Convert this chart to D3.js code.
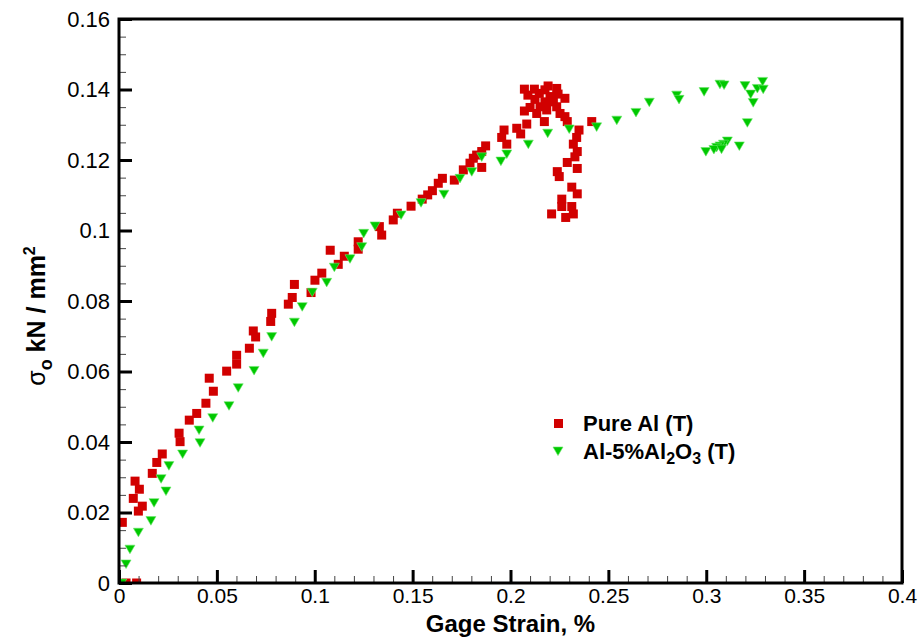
<!DOCTYPE html>
<html><head><meta charset="utf-8">
<script src="https://cdn.jsdelivr.net/npm/d3@7"></script>
<style>
body{margin:0;background:#fff;}
text{font-family:"Liberation Sans",Arial,Helvetica,sans-serif;}
</style></head>
<body><svg id="c" width="919" height="637"></svg>
<script>
const pureStrain=[0.0017,0.0036,0.0090,0.0073,0.0082,0.0104,0.0099,0.0119,0.0170,0.0193,0.0221,0.0307,0.0312,0.0359,0.0397,0.0444,0.0482,0.0461,0.0550,0.0601,0.0601,0.0666,0.0698,0.0686,0.0775,0.0780,0.0865,0.0885,0.0896,0.0981,0.1001,0.1036,0.1079,0.1120,0.1151,0.1222,0.1222,0.1330,0.1342,0.1401,0.1422,0.1492,0.1549,0.1577,0.1601,0.1631,0.1652,0.1713,0.1759,0.1793,0.1810,0.1827,0.1853,0.1853,0.1873,0.1967,0.1955,0.1981,0.2032,0.2052,0.2083,0.2071,0.2071,0.2122,0.2147,0.2176,0.2236,0.2278,0.2125,0.2176,0.2219,0.2100,0.2134,0.2185,0.2236,0.2278,0.2173,0.2290,0.2202,0.2151,0.2253,0.2089,0.2192,0.2243,0.2415,0.2350,0.2338,0.2321,0.2341,0.2329,0.2290,0.2341,0.2239,0.2249,0.2313,0.2341,0.2262,0.2262,0.2313,0.2210,0.2321,0.2282];
const pureStress=[0.0172,0,0,0.0240,0.0289,0.0266,0.0204,0.0218,0.0311,0.0342,0.0366,0.0425,0.0401,0.0462,0.0481,0.0510,0.0544,0.0581,0.0601,0.0621,0.0646,0.0666,0.0698,0.0715,0.0742,0.0765,0.0791,0.0810,0.0847,0.0824,0.0859,0.0879,0.0944,0.0904,0.0927,0.0947,0.0968,0.1011,0.0987,0.1030,0.1049,0.1069,0.1089,0.1101,0.1113,0.1134,0.1148,0.1143,0.1172,0.1191,0.1205,0.1214,0.1224,0.1179,0.1240,0.1285,0.1264,0.1245,0.1290,0.1274,0.1302,0.1401,0.1339,0.1401,0.1389,0.1399,0.1403,0.1375,0.1372,0.1365,0.1365,0.1349,0.1332,0.1342,0.1351,0.1323,0.1309,0.1309,0.1380,0.1351,0.1332,0.1384,0.1410,0.1387,0.1309,0.1285,0.1264,0.1245,0.1224,0.1209,0.1193,0.1176,0.1167,0.1153,0.1123,0.1104,0.1089,0.1068,0.1068,0.1047,0.1047,0.1037];
const compStrain=[0.0014,0.0036,0.0056,0.0099,0.0163,0.0179,0.0240,0.0215,0.0255,0.0325,0.0414,0.0409,0.0479,0.0562,0.0609,0.0690,0.0737,0.0780,0.0896,0.0936,0.0987,0.1061,0.1100,0.1180,0.1240,0.1250,0.1308,0.1441,0.1543,0.1660,0.1742,0.1802,0.1853,0.1951,0.1981,0.2091,0.2190,0.2300,0.2440,0.2543,0.2641,0.2709,0.2849,0.2861,0.2989,0.3070,0.3091,0.3198,0.3227,0.3240,0.3261,0.3288,0.3291,0.3210,0.3169,0.3108,0.3088,0.3070,0.3053,0.3039,0.2998,0.3078];
const compStress=[0,0.0054,0.0096,0.0144,0.0177,0.0228,0.0261,0.0296,0.0333,0.0366,0.0398,0.0434,0.0469,0.0503,0.0554,0.0603,0.0652,0.0699,0.0740,0.0784,0.0825,0.0853,0.0896,0.0920,0.0954,0.0992,0.1013,0.1044,0.1079,0.1103,0.1148,0.1167,0.1209,0.1197,0.1217,0.1245,0.1276,0.1288,0.1294,0.1313,0.1335,0.1364,0.1384,0.1372,0.1394,0.1415,0.1413,0.1411,0.1387,0.1363,0.1403,0.1423,0.1401,0.1306,0.1240,0.1254,0.1245,0.1240,0.1236,0.1230,0.1224,0.1231];
const xMajorTicks=[0,0.05,0.1,0.15,0.2,0.25,0.3,0.35,0.4];
const xTickLabels=["0","0.05","0.1","0.15","0.2","0.25","0.3","0.35","0.4"];
const yMajorTicks=[0,0.02,0.04,0.06,0.08,0.1,0.12,0.14,0.16];
const yTickLabels=["0","0.02","0.04","0.06","0.08","0.1","0.12","0.14","0.16"];
const seriesNames=["Pure Al (T)","Al-5%Al2O3 (T)"];

const L=119,R=902,T=19,B=583;
const svg=d3.select("#c");
const x=d3.scaleLinear().domain([0,0.4]).range([L,R]);
const y=d3.scaleLinear().domain([0,0.16]).range([B,T]);

svg.append("clipPath").attr("id","clip").append("rect").attr("x",L).attr("y",T).attr("width",R-L).attr("height",B-T);
const g=svg.append("g").attr("clip-path","url(#clip)");

const pure=pureStrain.map((s,i)=>({s,v:pureStress[i]}));
const comp=compStrain.map((s,i)=>({s,v:compStress[i]}));

g.selectAll(".p").data(pure).enter().append("rect")
 .attr("x",d=>x(d.s)-4.5).attr("y",d=>y(d.v)-4.5).attr("width",9).attr("height",9).attr("fill","#d10000");
const tri="M-5,-4L5,-4L0,4.6Z";
g.selectAll(".t").data(comp).enter().append("path")
 .attr("d",tri).attr("transform",d=>`translate(${x(d.s)},${y(d.v)})`)
 .attr("fill","#00c800").attr("stroke","#6ae86a").attr("stroke-width",0.6);

// minor ticks
const xMinor=d3.range(0,0.4001,0.01).filter(v=>Math.abs(v/0.05-Math.round(v/0.05))>1e-6);
const yMinor=d3.range(0,0.1601,0.005).filter(v=>Math.abs(v/0.02-Math.round(v/0.02))>1e-6);
const xm=svg.append("g").attr("transform",`translate(0,${B})`).call(d3.axisBottom(x).tickValues(xMinor).tickSize(-7).tickFormat(""));
const ym=svg.append("g").attr("transform",`translate(${L},0)`).call(d3.axisLeft(y).tickValues(yMinor).tickSize(-7).tickFormat(""));
[xm,ym].forEach(a=>{a.select(".domain").remove();a.selectAll("line").attr("stroke","#444").attr("stroke-width",1);});

const xa=svg.append("g").attr("transform",`translate(0,${B})`)
 .call(d3.axisBottom(x).tickValues(xMajorTicks).tickSize(-13).tickPadding(5).tickFormat((d,i)=>xTickLabels[i]));
const ya=svg.append("g").attr("transform",`translate(${L},0)`)
 .call(d3.axisLeft(y).tickValues(yMajorTicks).tickSize(-13).tickPadding(9).tickFormat((d,i)=>yTickLabels[i]));
[xa,ya].forEach(a=>{a.select(".domain").remove();a.selectAll("line").attr("stroke","#000").attr("stroke-width",3);
 a.selectAll("text").attr("font-size",21).attr("fill","#000").attr("font-family","Liberation Sans, Arial, sans-serif");});
ya.selectAll("text").attr("font-size",22);

svg.append("rect").attr("x",L).attr("y",T).attr("width",R-L).attr("height",B-T)
 .attr("fill","none").attr("stroke","#000").attr("stroke-width",3);

// axis titles
svg.append("text").attr("x",(L+R)/2).attr("y",632).attr("text-anchor","middle")
 .attr("font-size",24).attr("font-weight","bold").text("Gage Strain, %");
const yl=svg.append("text").attr("transform","translate(45,316) rotate(-90)").attr("text-anchor","middle")
 .attr("font-size",25).attr("font-weight","bold");
yl.append("tspan").attr("font-weight","normal").text("σ");
yl.append("tspan").attr("dy",7).attr("font-size",18).text("o");
yl.append("tspan").attr("dy",-7).text(" kN / mm");
yl.append("tspan").attr("dy",-10).attr("font-size",16).text("2");

// legend
svg.append("rect").attr("x",554).attr("y",419).attr("width",9).attr("height",9).attr("fill","#d10000");
svg.append("path").attr("d",tri).attr("transform","translate(558,451)").attr("fill","#00c800").attr("stroke","#6ae86a").attr("stroke-width",0.6);
svg.append("text").attr("x",583).attr("y",431).attr("font-size",22).attr("font-weight","bold").text(seriesNames[0]);
const l2=svg.append("text").attr("x",583).attr("y",459).attr("font-size",22).attr("font-weight","bold");
l2.append("tspan").text("Al-5%Al");
l2.append("tspan").attr("dy",5).attr("font-size",16).text("2");
l2.append("tspan").attr("dy",-5).text("O");
l2.append("tspan").attr("dy",5).attr("font-size",16).text("3");
l2.append("tspan").attr("dy",-5).text(" (T)");
</script></body></html>
